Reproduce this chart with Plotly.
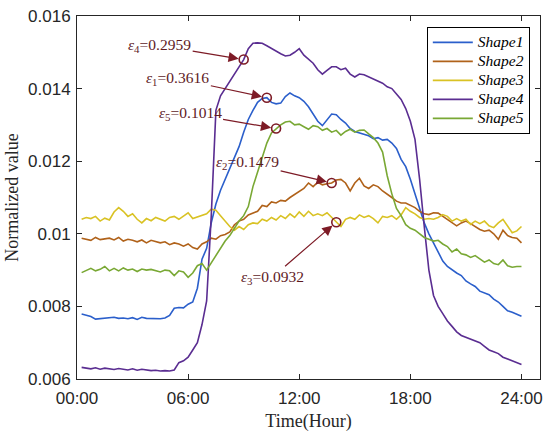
import numpy as np
import plotly.graph_objects as go

# time axis: 15-minute steps, 00:15 .. 24:00
hours = np.arange(1, 97) * 0.25

shape1 = [0.00779, 0.00776, 0.00772, 0.00765, 0.00766, 0.00769, 0.00768, 0.00770,
          0.00767, 0.00768, 0.00766, 0.00769, 0.00764, 0.00770, 0.00767, 0.00766,
          0.00767, 0.00766, 0.00768, 0.00775, 0.00795, 0.00797, 0.00796, 0.00806,
          0.00812, 0.00850, 0.00930, 0.00960, 0.01030, 0.01082, 0.01120, 0.01150,
          0.01180, 0.01215, 0.01240, 0.01280, 0.01315, 0.01340, 0.01362, 0.01373,
          0.01375, 0.01362, 0.01358, 0.01360, 0.01378, 0.01388, 0.01380, 0.01375,
          0.01365, 0.01350, 0.01330, 0.01310, 0.01298, 0.01315, 0.01330, 0.01328,
          0.01315, 0.01305, 0.01290, 0.01282, 0.01278, 0.01272, 0.01270, 0.01262,
          0.01265, 0.01258, 0.01260, 0.01250, 0.01235, 0.01205, 0.01185, 0.01150,
          0.01110, 0.01075, 0.01030, 0.01000, 0.00975, 0.00950, 0.00925, 0.00910,
          0.00900, 0.00892, 0.00885, 0.00870, 0.00862, 0.00855, 0.00842, 0.00838,
          0.00832, 0.00820, 0.00812, 0.00800, 0.00788, 0.00784, 0.00778, 0.00773]

shape2 = [0.00988, 0.00985, 0.00982, 0.00990, 0.00984, 0.00986, 0.00988, 0.00983,
          0.00990, 0.00980, 0.00985, 0.00982, 0.00978, 0.00983, 0.00975, 0.00982,
          0.00978, 0.00975, 0.00978, 0.00970, 0.00975, 0.00972, 0.00966, 0.00972,
          0.00962, 0.00958, 0.00972, 0.00978, 0.00988, 0.00985, 0.00995, 0.00998,
          0.01005, 0.01025, 0.01035, 0.01040, 0.01052, 0.01058, 0.01062, 0.01078,
          0.01075, 0.01088, 0.01085, 0.01092, 0.01090, 0.01100, 0.01108, 0.01115,
          0.01125, 0.01140, 0.01130, 0.01142, 0.01135, 0.01138, 0.01140, 0.01148,
          0.01150, 0.01140, 0.01118, 0.01140, 0.01153, 0.01132, 0.01125, 0.01135,
          0.01130, 0.01118, 0.01110, 0.01100, 0.01090, 0.01085, 0.01085, 0.01078,
          0.01072, 0.01062, 0.01055, 0.01053, 0.01058, 0.01057, 0.01048, 0.01040,
          0.01032, 0.01022, 0.01030, 0.01035, 0.01028, 0.01020, 0.01012, 0.01007,
          0.01010, 0.01000, 0.00985, 0.01010, 0.00995, 0.00990, 0.00988, 0.00975]

shape3 = [0.01040, 0.01045, 0.01042, 0.01048, 0.01035, 0.01043, 0.01038, 0.01060,
          0.01072, 0.01062, 0.01048, 0.01055, 0.01040, 0.01030, 0.01042, 0.01036,
          0.01045, 0.01040, 0.01035, 0.01045, 0.01048, 0.01040, 0.01050, 0.01058,
          0.01042, 0.01047, 0.01050, 0.01055, 0.01068, 0.01065, 0.01050, 0.01035,
          0.01020, 0.01010, 0.01020, 0.01012, 0.01025, 0.01030, 0.01028, 0.01040,
          0.01035, 0.01045, 0.01038, 0.01050, 0.01042, 0.01055, 0.01045, 0.01060,
          0.01048, 0.01062, 0.01050, 0.01055, 0.01050, 0.01058, 0.01045, 0.01032,
          0.01020, 0.01040, 0.01045, 0.01040, 0.01052, 0.01045, 0.01050, 0.01042,
          0.01030, 0.01048, 0.01045, 0.01050, 0.01040, 0.01052, 0.01072, 0.01062,
          0.01055, 0.01045, 0.01040, 0.01042, 0.01040, 0.01045, 0.01053, 0.01048,
          0.01035, 0.01042, 0.01035, 0.01040, 0.01026, 0.01035, 0.01028, 0.01035,
          0.01022, 0.01017, 0.01030, 0.01040, 0.01020, 0.01003, 0.01008, 0.01020]

shape4 = [0.00632, 0.00630, 0.00628, 0.00631, 0.00627, 0.00630, 0.00628, 0.00626,
          0.00629, 0.00627, 0.00625, 0.00628, 0.00624, 0.00627, 0.00625, 0.00623,
          0.00624, 0.00622, 0.00623, 0.00622, 0.00625, 0.00645, 0.00650, 0.00660,
          0.00680, 0.00700, 0.00750, 0.00815, 0.01050, 0.01340, 0.01380, 0.01400,
          0.01420, 0.01440, 0.01460, 0.01480, 0.01510, 0.01525, 0.01526, 0.01525,
          0.01518, 0.01510, 0.01502, 0.01496, 0.01490, 0.01492, 0.01500, 0.01510,
          0.01492, 0.01482, 0.01470, 0.01452, 0.01440, 0.01450, 0.01460, 0.01460,
          0.01452, 0.01456, 0.01440, 0.01432, 0.01440, 0.01438, 0.01432, 0.01425,
          0.01420, 0.01415, 0.01405, 0.01400, 0.01385, 0.01370, 0.01345, 0.01310,
          0.01260, 0.01150, 0.01020, 0.00900, 0.00830, 0.00800, 0.00780, 0.00760,
          0.00745, 0.00730, 0.00720, 0.00715, 0.00710, 0.00705, 0.00700, 0.00690,
          0.00680, 0.00675, 0.00670, 0.00660, 0.00655, 0.00650, 0.00645, 0.00640]

shape5 = [0.00893, 0.00900, 0.00905, 0.00898, 0.00902, 0.00910, 0.00898, 0.00905,
          0.00898, 0.00906, 0.00900, 0.00903, 0.00896, 0.00903, 0.00900, 0.00902,
          0.00898, 0.00895, 0.00900, 0.00898, 0.00885, 0.00898, 0.00895, 0.00880,
          0.00892, 0.00912, 0.00918, 0.00900, 0.00920, 0.00940, 0.00960, 0.00980,
          0.00995, 0.01015, 0.01035, 0.01050, 0.01075, 0.01130, 0.01170, 0.01205,
          0.01250, 0.01278, 0.01290, 0.01300, 0.01308, 0.01310, 0.01300, 0.01302,
          0.01295, 0.01288, 0.01298, 0.01295, 0.01285, 0.01290, 0.01280, 0.01285,
          0.01272, 0.01282, 0.01288, 0.01280, 0.01285, 0.01286, 0.01275, 0.01265,
          0.01250, 0.01225, 0.01160, 0.01110, 0.01070, 0.01050, 0.01025, 0.01015,
          0.01010, 0.01000, 0.00990, 0.00985, 0.00980, 0.00982, 0.00972, 0.00965,
          0.00950, 0.00958, 0.00945, 0.00942, 0.00935, 0.00940, 0.00930, 0.00922,
          0.00928, 0.00918, 0.00915, 0.00928, 0.00912, 0.00908, 0.00910, 0.00910]

series_names = ["Shape1", "Shape2", "Shape3", "Shape4", "Shape5"]
series_values = [shape1, shape2, shape3, shape4, shape5]
colors = ["#2B5FCB", "#B0621A", "#D9C224", "#5A2D91", "#79A834"]

# marked points with their error labels
mark_series = [3, 0, 4, 1, 2]
mark_hours = [9.0, 10.25, 10.75, 13.75, 14.0]
mark_eps = ["4", "1", "5", "2", "3"]
mark_vals = ["0.2959", "0.3616", "0.1014", "0.1479", "0.0932"]
# label offsets (pixels) from the marked point
label_dx = [-84, -89, -86, -84, -64]
label_dy = [-14, -19, -15, -20, 55]

tick_hours = [0, 6, 12, 18, 24]
tick_hour_text = ["00:00", "06:00", "12:00", "18:00", "24:00"]
tick_y = [0.006, 0.008, 0.010, 0.012, 0.014, 0.016]
tick_y_text = ["0.006", "0.008", "0.01", "0.012", "0.014", "0.016"]

mark_color = "#7D1B26"
axis_color = "#262626"
serif = "Liberation Serif, Times New Roman, serif"

fig = go.Figure()

for name, vals, col in zip(series_names, series_values, colors):
    # legend spacing follows the (smaller) legend font, the text is drawn larger
    fig.add_trace(go.Scatter(
        x=hours, y=vals, mode="lines",
        name=f"<span style='font-size:15.5px'><i>{name}</i></span>",
        line=dict(color=col, width=1.6)
    ))

# circles on marked points
mx, my = [], []
for s, h in zip(mark_series, mark_hours):
    idx = int(round(h / 0.25)) - 1
    mx.append(hours[idx])
    my.append(series_values[s][idx])

fig.add_trace(go.Scatter(
    x=mx, y=my, mode="markers", showlegend=False,
    marker=dict(symbol="circle-open", size=9, color=mark_color,
                line=dict(width=1.6, color=mark_color))
))

for x, y, e, v, dx, dy in zip(mx, my, mark_eps, mark_vals, label_dx, label_dy):
    fig.add_annotation(
        x=x, y=y, ax=dx, ay=dy, xref="x", yref="y",
        text=f"<i>ε</i><sub>{e}</sub>=" + v,
        showarrow=True, arrowhead=2, arrowsize=1.7, arrowwidth=1.2,
        arrowcolor=mark_color, standoff=5,
        font=dict(family=serif, size=15.5, color="#5E1A1E")
    )

fig.update_layout(
    width=550, height=435,
    margin=dict(l=77, r=7, t=14, b=56),
    paper_bgcolor="white", plot_bgcolor="white",
    font=dict(family="Liberation Sans", color=axis_color),
    legend=dict(
        x=0.978, y=0.97, xanchor="right", yanchor="top",
        bgcolor="white", bordercolor="black", borderwidth=1,
        font=dict(family=serif, size=12, color="black"),
        tracegroupgap=0, itemwidth=40
    ),
    xaxis=dict(
        range=[0, 25], tickvals=tick_hours, ticktext=tick_hour_text,
        ticks="inside", ticklen=5, tickcolor=axis_color,
        showline=True, linecolor=axis_color, linewidth=1, mirror="ticks",
        showgrid=False, zeroline=False, ticklabelstandoff=4,
        tickfont=dict(size=17),
        title=dict(text="Time(Hour)", standoff=6,
                   font=dict(family=serif, size=18, color=axis_color))
    ),
    yaxis=dict(
        range=[0.006, 0.016], tickvals=tick_y, ticktext=tick_y_text,
        ticks="inside", ticklen=5, tickcolor=axis_color,
        showline=True, linecolor=axis_color, linewidth=1, mirror="ticks",
        showgrid=False, zeroline=False, ticklabelstandoff=2,
        tickfont=dict(size=17),
        title=dict(text="Normalized value", standoff=4,
                   font=dict(family=serif, size=18, color=axis_color))
    )
)

fig.write_html("out.html", config={"displayModeBar": False},
               post_script="document.body.style.margin='0';")
